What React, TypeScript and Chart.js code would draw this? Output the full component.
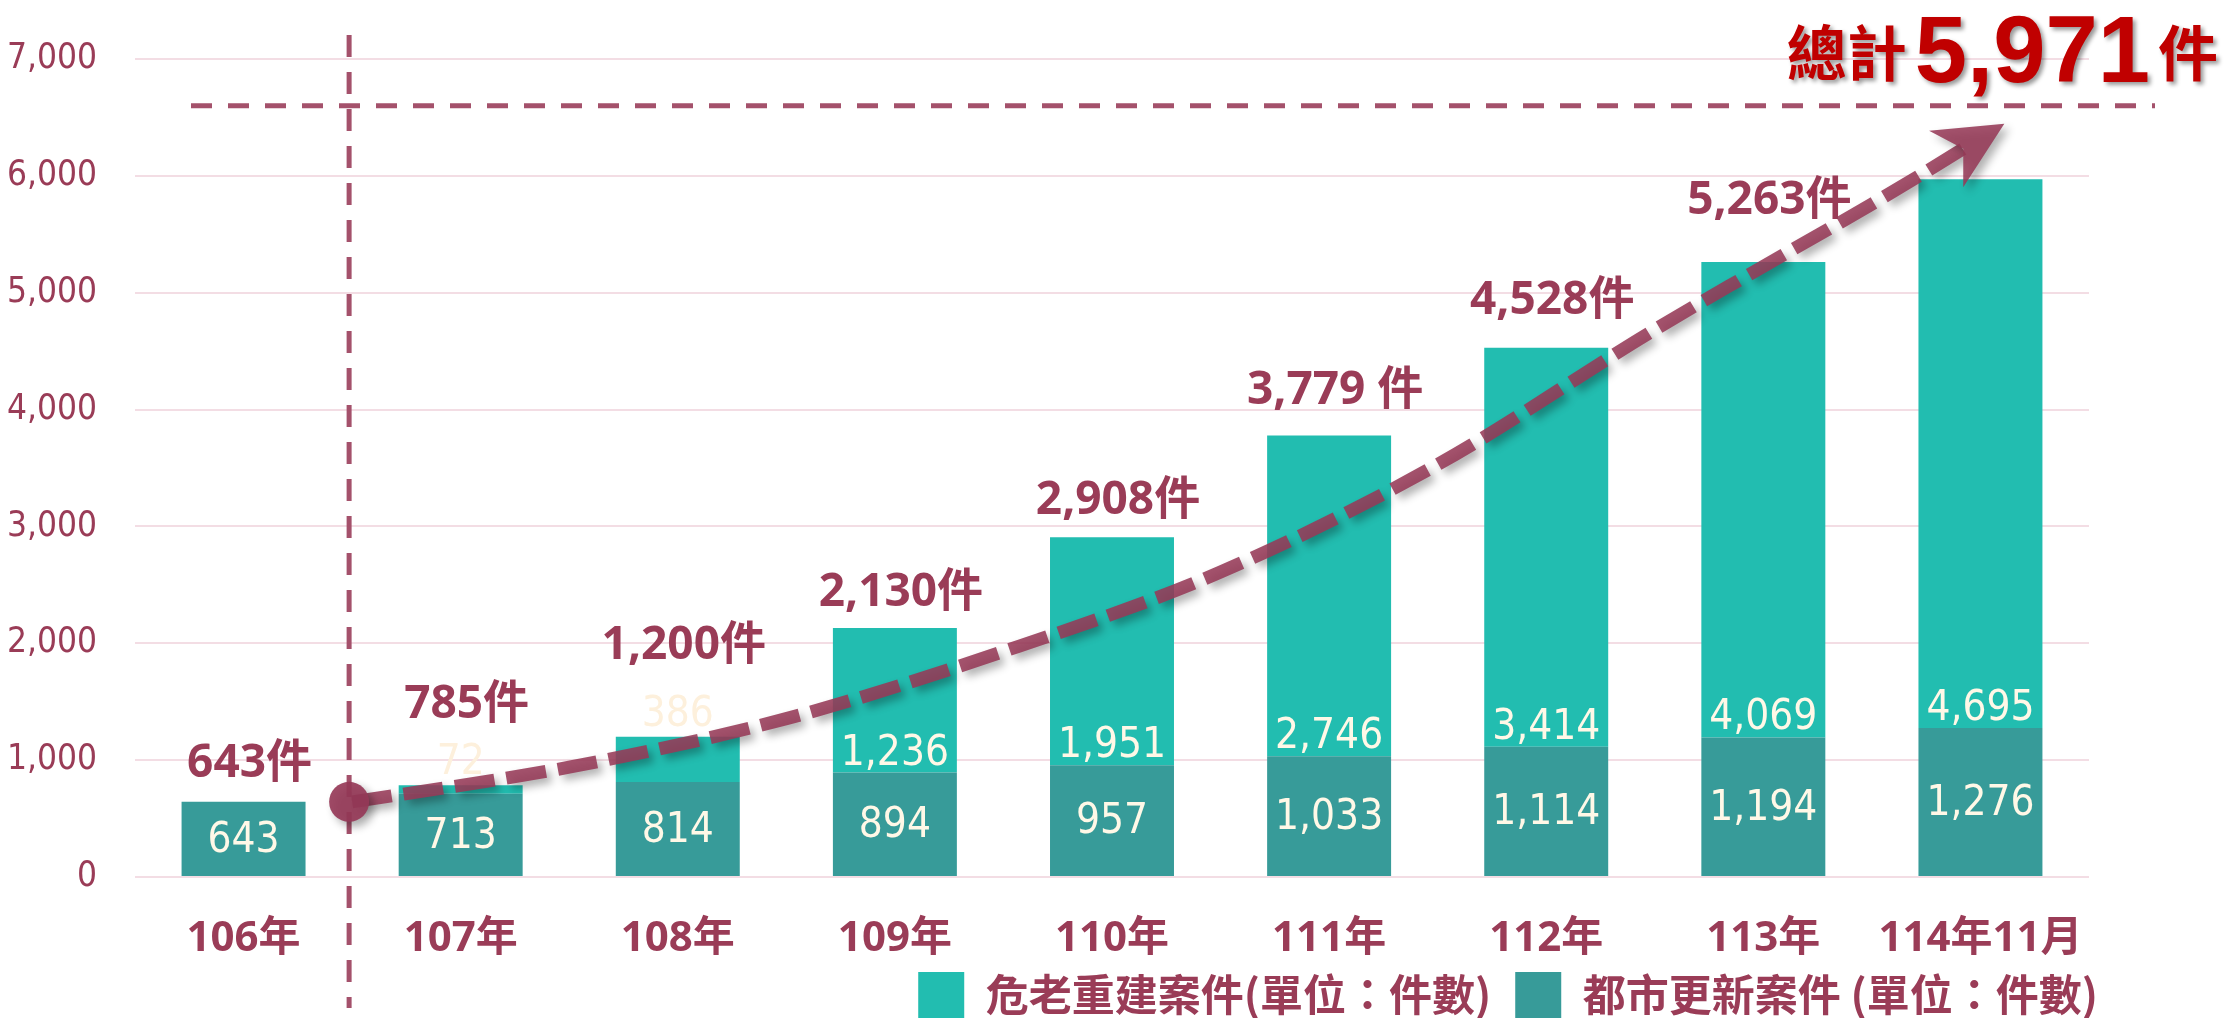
import React, { useEffect, useRef } from "react";
import { Chart, registerables } from "chart.js";

Chart.register(...registerables);

// ---------------- data ----------------
const CATEGORIES = ["106年", "107年", "108年", "109年", "110年", "111年", "112年", "113年", "114年11月"];
const URBAN_RENEWAL = [643, 713, 814, 894, 957, 1033, 1114, 1194, 1276]; // 都市更新案件
const OLD_REBUILD = [0, 72, 386, 1236, 1951, 2746, 3414, 4069, 4695]; // 危老重建案件
const TOTAL_LABELS = ["643件", "785件", "1,200件", "2,130件", "2,908件", "3,779 件", "4,528件", "5,263件", ""];
const GRAND_TOTAL = 5971;
const Y_MAX = 7000;
const Y_STEP = 1000;
// trend arrow path (category position, value)
const ARROW_X = [0.5, 1.5, 2.5, 3.5, 4.5, 5.5, 6.5, 7.5, 8.11];
const ARROW_Y = [643, 940, 1355, 1930, 2610, 3530, 4684, 5759, 6445];
const REF_LINE_VALUE = 6600;
const DIVIDER_POS = 0.5;

// ---------------- styles ----------------
const MAROON = "#9A3C57";
const DASH_COLOR = "#A4516B";
const TEAL_TOP = "#22BDB0";
const TEAL_BOTTOM = "#379B99";
const CREAM = "#FFF8E7";
const FAINT = "#FDF0DC";
const TOTAL_LABEL_LIFT = [25, 67, 78, 22, 23, 31, 34, 48, 0];
const LEGEND_DX = 33;
const LEGEND_DY = -7;

const fmt = (n: number) => n.toLocaleString("en-US");

const decorPlugin = {
  id: "decor",
  afterLayout(chart: any) {
    const lg = chart.legend;
    if (lg) {
      lg.left += LEGEND_DX;
      lg.right += LEGEND_DX;
      lg.top += LEGEND_DY;
      lg.bottom += LEGEND_DY;
    }
  },
  afterDatasetsDraw(chart: any) {
    const ctx = chart.ctx;
    const m0 = chart.getDatasetMeta(0);
    const m1 = chart.getDatasetMeta(1);
    ctx.save();
    ctx.textAlign = "center";
    const numFont = "42px 'DejaVu Sans Condensed', 'Open Sans', sans-serif";
    for (let i = 0; i < CATEGORIES.length; i++) {
      const b0 = m0.data[i];
      const b1 = m1.data[i];
      // bottom segment label
      ctx.font = numFont;
      ctx.fillStyle = CREAM;
      ctx.textBaseline = "middle";
      ctx.fillText(fmt(URBAN_RENEWAL[i]), b0.x, (b0.y + b0.base) / 2 + 2);
      // top segment label
      const labelTop = b1.y;
      if (OLD_REBUILD[i] > 0) {
        const h = b1.base - b1.y;
        ctx.textBaseline = "alphabetic";
        if (h > 50) {
          ctx.fillStyle = CREAM;
          ctx.fillText(fmt(OLD_REBUILD[i]), b1.x, b1.base - 8);
        } else {
          ctx.fillStyle = FAINT;
          ctx.fillText(fmt(OLD_REBUILD[i]), b1.x, b1.y - 11);
        }
      }
      // total label
      if (TOTAL_LABELS[i]) {
        ctx.font = "bold 46px 'Open Sans', 'Noto Sans CJK TC', sans-serif";
        ctx.fillStyle = MAROON;
        ctx.textBaseline = "alphabetic";
        ctx.fillText(TOTAL_LABELS[i], b1.x + 6, labelTop - TOTAL_LABEL_LIFT[i]);
      }
    }
    ctx.restore();
  },
  afterDraw(chart: any) {
    const ctx = chart.ctx;
    const xs = chart.scales.x;
    const ys = chart.scales.y;
    const area = chart.chartArea;

    // vertical divider
    ctx.save();
    const vx = xs.getPixelForValue(DIVIDER_POS) - 3;
    ctx.strokeStyle = DASH_COLOR;
    ctx.lineWidth = 5;
    ctx.setLineDash([22, 15]);
    ctx.beginPath();
    ctx.moveTo(vx, 35);
    ctx.lineTo(vx, chart.height - 10);
    ctx.stroke();

    // horizontal reference line
    const hy = ys.getPixelForValue(REF_LINE_VALUE);
    ctx.setLineDash([21, 16]);
    ctx.beginPath();
    ctx.moveTo(area.left + 56, hy);
    ctx.lineTo(area.right + 66, hy);
    ctx.stroke();
    ctx.restore();

    // trend arrow
    const pts = ARROW_X.map((v, i) => ({ x: xs.getPixelForValue(v), y: ys.getPixelForValue(ARROW_Y[i]) }));
    const n = pts.length;
    const tip = pts[n - 1];
    const prev = pts[n - 2];
    let dx = tip.x - prev.x;
    let dy = tip.y - prev.y;
    const dl = Math.hypot(dx, dy);
    dx /= dl;
    dy /= dl;
    const L = 68, W = 33, NOTCH = 48;
    const lineEnd = { x: tip.x - dx * NOTCH, y: tip.y - dy * NOTCH };
    const path = pts.slice(0, n - 1).concat([lineEnd]);
    ctx.save();
    ctx.shadowColor = "rgba(0,0,0,0.35)";
    ctx.shadowBlur = 8;
    ctx.shadowOffsetX = 5;
    ctx.shadowOffsetY = 5;
    const arrowColor = "rgba(150,58,88,0.88)";
    ctx.strokeStyle = arrowColor;
    ctx.lineWidth = 13;
    ctx.lineCap = "butt";
    ctx.setLineDash([40, 12]);
    ctx.beginPath();
    ctx.moveTo(path[0].x, path[0].y);
    for (let i = 0; i < path.length - 1; i++) {
      const p0 = path[i - 1] || path[i];
      const p1 = path[i];
      const p2 = path[i + 1];
      const p3 = path[i + 2] || p2;
      const t = 1 / 6;
      ctx.bezierCurveTo(
        p1.x + (p2.x - p0.x) * t, p1.y + (p2.y - p0.y) * t,
        p2.x - (p3.x - p1.x) * t, p2.y - (p3.y - p1.y) * t,
        p2.x, p2.y
      );
    }
    ctx.stroke();
    ctx.setLineDash([]);
    // arrow head
    const px = -dy, py = dx;
    const bx = tip.x - dx * L, by = tip.y - dy * L;
    ctx.fillStyle = arrowColor;
    ctx.beginPath();
    ctx.moveTo(tip.x, tip.y);
    ctx.lineTo(bx + px * W, by + py * W);
    ctx.lineTo(tip.x - dx * NOTCH, tip.y - dy * NOTCH);
    ctx.lineTo(bx - px * W, by - py * W);
    ctx.closePath();
    ctx.fill();
    // start dot
    ctx.fillStyle = "rgba(150,58,88,0.92)";
    ctx.beginPath();
    ctx.arc(pts[0].x - 3, pts[0].y, 20, 0, Math.PI * 2);
    ctx.fill();
    ctx.restore();

    // grand total title
    ctx.save();
    ctx.shadowColor = "rgba(0,0,0,0.4)";
    ctx.shadowBlur = 4;
    ctx.shadowOffsetX = 3;
    ctx.shadowOffsetY = 3;
    ctx.fillStyle = "#C00000";
    ctx.textAlign = "right";
    ctx.textBaseline = "alphabetic";
    let x = chart.width - 8;
    ctx.font = "bold 60px 'Noto Sans CJK TC', sans-serif";
    ctx.fillText("件", x, 76);
    x -= ctx.measureText("件").width + 8;
    ctx.font = "bold 94px 'Liberation Sans', Arial, sans-serif";
    const num = fmt(GRAND_TOTAL);
    ctx.fillText(num, x, 82);
    x -= ctx.measureText(num).width + 8;
    ctx.font = "bold 60px 'Noto Sans CJK TC', sans-serif";
    ctx.fillText("總計", x, 76);
    ctx.restore();
  },
};

export default function App() {
  const ref = useRef<HTMLCanvasElement | null>(null);
  useEffect(() => {
    document.body.style.margin = "0";
    const canvas = ref.current!;
    const chart = new Chart(canvas, {
      type: "bar",
      data: {
        labels: CATEGORIES,
        datasets: [
          {
            label: "都市更新案件 (單位：件數)",
            data: URBAN_RENEWAL,
            backgroundColor: TEAL_BOTTOM,
            borderWidth: 0,
            stack: "s",
          },
          {
            label: "危老重建案件(單位：件數)",
            data: OLD_REBUILD,
            backgroundColor: TEAL_TOP,
            borderWidth: 0,
            stack: "s",
          },
        ],
      },
      options: {
        responsive: false,
        animation: false,
        devicePixelRatio: 1,
        layout: { padding: { top: 56, right: 137, left: 0, bottom: -17 } },
        datasets: { bar: { categoryPercentage: 1, barPercentage: 0.571 } },
        plugins: {
          tooltip: { enabled: false },
          legend: {
            position: "bottom",
            align: "end",
            reverse: true,
            labels: {
              boxWidth: 46,
              boxHeight: 46,
              padding: 24,
              color: MAROON,
              font: { family: "'Noto Sans CJK TC', sans-serif", size: 43, weight: "bold" },
            },
          },
        },
        scales: {
          x: {
            stacked: true,
            grid: { display: false },
            border: { display: false },
            ticks: {
              color: MAROON,
              padding: 29,
              font: { family: "'Open Sans', 'Noto Sans CJK TC', sans-serif", size: 42, weight: "bold" },
              maxRotation: 0,
              autoSkip: false,
            },
            afterFit(scale: any) {
              scale.height = 78;
            },
          },
          y: {
            stacked: true,
            min: 0,
            max: Y_MAX,
            grid: { color: "#F3DDE4", lineWidth: 2, drawTicks: false },
            border: { display: false },
            ticks: {
              stepSize: Y_STEP,
              color: MAROON,
              padding: 38,
              font: { family: "'DejaVu Sans Condensed', 'Open Sans', sans-serif", size: 35 },
              callback: (v: any) => fmt(Number(v)),
            },
            afterFit(scale: any) {
              scale.width = 135;
            },
          },
        },
      },
      plugins: [decorPlugin],
    });
    return () => chart.destroy();
  }, []);
  return (
    <div style={{ width: 2226, height: 1018 }}>
      <canvas ref={ref} width={2226} height={1018} style={{ display: "block", width: 2226, height: 1018 }} />
    </div>
  );
}
